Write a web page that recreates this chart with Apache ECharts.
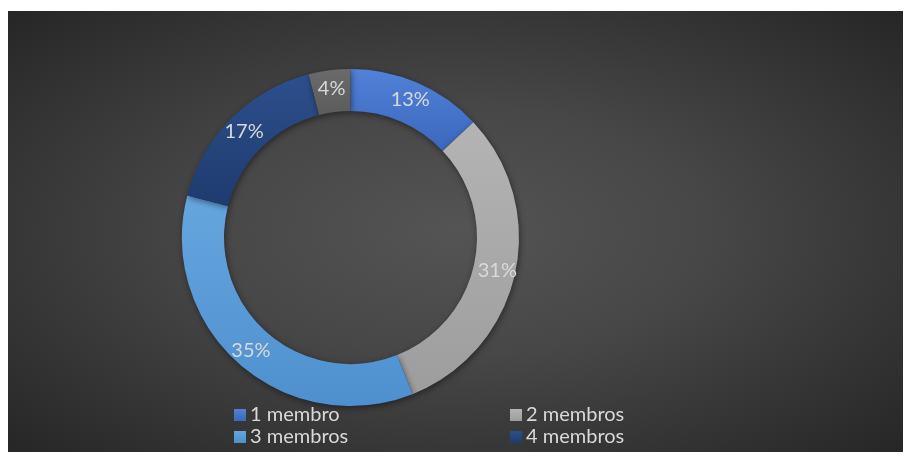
<!DOCTYPE html>
<html>
<head>
<meta charset="utf-8">
<script src="https://cdn.jsdelivr.net/npm/echarts@6/dist/echarts.min.js"></script>
<style>
  html, body { margin: 0; padding: 0; background: #fff; }
  #wrap { position: relative; width: 912px; height: 457px; }
  #main {
    position: absolute; left: 8px; top: 11px; width: 895px; height: 441px;
    background: radial-gradient(ellipse at 50% 50%, #545454 0%, #474747 40%, #262626 100%);
  }
</style>
</head>
<body>
<div id="wrap"><div id="main"></div></div>
<script>
// categories and shares (%)
const categories = ['1 membro', '2 membros', '3 membros', '4 membros', '5 membros'];
const values = [13, 31, 35, 17, 4];
const colors = [
  ['#5181d8', '#3a68bd'],
  ['#b4b4b4', '#9d9d9d'],
  ['#66a6de', '#4e90cf'],
  ['#2c4f8c', '#1f3b6e'],
  ['#6a6a6a', '#5c5c5c']
];
const legendLeft = [221, 497, 221, 497];
const legendTop = [389, 389, 411, 411];

const chart = echarts.init(document.getElementById('main'));

const grad = (c) => new echarts.graphic.LinearGradient(0, 0, 0, 1, [
  { offset: 0, color: c[0] }, { offset: 1, color: c[1] }
]);

const legends = categories.slice(0, 4).map((name, i) => ({
  data: [name],
  left: legendLeft[i],
  top: legendTop[i],
  icon: 'rect',
  itemWidth: 12,
  itemHeight: 12,
  itemGap: 6,
  selectedMode: false,
  textStyle: { color: '#d9d9d9', fontSize: 20, fontFamily: 'Lato', padding: [0, 0, 0, -1] }
}));

chart.setOption({
  animation: false,
  legend: legends,
  series: [
    {
      type: 'pie',
      center: [342.5, 226.5],
      radius: [126.5, 168.5],
      startAngle: 90,
      clockwise: true,
      avoidLabelOverlap: false,
      data: categories.map((name, i) => ({
        name: name,
        value: values[i],
        itemStyle: { color: grad(colors[i]) }
      })),
      itemStyle: {
        borderWidth: 0,
        shadowBlur: 6,
        shadowColor: 'rgba(0,0,0,0.45)',
        shadowOffsetX: 1,
        shadowOffsetY: 2
      },
      label: {
        show: true,
        position: 'inside',
        formatter: '{c}%',
        color: '#d9d9d9',
        fontSize: 20,
        fontFamily: 'Lato'
      },
      labelLine: { show: false }
    }
  ]
});
</script>
</body>
</html>
